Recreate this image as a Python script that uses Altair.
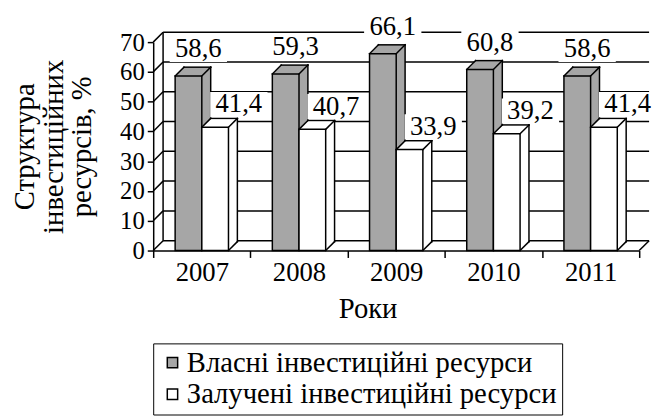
import altair as alt
import pandas as pd

years = ["2007", "2008", "2009", "2010", "2011"]
own = [58.6, 59.3, 66.1, 60.8, 58.6]
attracted = [41.4, 40.7, 33.9, 39.2, 41.4]
series_names = ["Власні інвестиційні ресурси", "Залучені інвестиційні ресурси"]
series_colors = ["#a6a6a6", "#ffffff"]
y_ticks = [0, 10, 20, 30, 40, 50, 60, 70]
y_title = ["Структура", "інвестиційних", "ресурсів, %"]
x_title = "Роки"

rows = []
for i, yr in enumerate(years):
    rows.append({"year": yr, "series": series_names[0], "value": own[i], "zero": 0})
    rows.append({"year": yr, "series": series_names[1], "value": attracted[i], "zero": 0})
df = pd.DataFrame(rows)
df["label"] = df["value"].map(lambda v: f"{v:.1f}".replace(".", ","))
ticks_df = pd.DataFrame({"value": y_ticks})
one_df = pd.DataFrame({"a": [0]})

W, H = 492, 211
BW = 27      # bar width (px)
D = 9        # bar depth (px)
WD = 10      # wall depth (px)
FONT = "Liberation Serif"
SW = 1.5

xenc = alt.X(
    "year:N",
    scale=alt.Scale(domain=years, paddingInner=0, paddingOuter=0),
    axis=alt.Axis(
        labelAngle=0, tickBand="extent", tickSize=7, tickWidth=SW, tickColor="black",
        domainColor="black", domainWidth=SW, labelFont=FONT, labelFontSize=27,
        labelColor="black", labelPadding=2, title=x_title, titleFont=FONT,
        titleFontSize=29, titleFontWeight="normal", titleColor="black", titlePadding=10,
        titleX=217,
    ),
)
y_axis = alt.Axis(
    values=y_ticks, grid=False, tickSize=6, tickWidth=SW, tickColor="black",
    domainColor="black", domainWidth=SW, labelFont=FONT, labelFontSize=25,
    labelColor="black", labelPadding=3, labelOverlap=False, title=y_title,
    titleFont=FONT, titleFontSize=29, titleFontWeight="normal", titleColor="black",
    titleLineHeight=29, titleX=-115, titleY=H / 2, titleBaseline="bottom",
)
y_scale = alt.Scale(domain=[0, 70], nice=False)


def yf(field):
    return alt.Y(f"{field}:Q", scale=y_scale, axis=y_axis)


yenc = yf("value")
yzero = yf("zero")

color_scale = alt.Scale(domain=series_names, range=series_colors)
legend = alt.Legend(
    title=None, orient="none", legendX=0, legendY=305, strokeColor="black",
    padding=5, symbolType="square", symbolSize=110, symbolStrokeColor="black",
    symbolStrokeWidth=SW, labelFont=FONT, labelFontSize=29, labelColor="black",
    labelOffset=0, rowPadding=2, labelLimit=700,
)

layers = []

# back wall gridlines
layers.append(
    alt.Chart(ticks_df).mark_rule(color="black", strokeWidth=SW, yOffset=-WD)
    .encode(y=yenc, x=alt.value(WD), x2=alt.value(W + WD))
)
# left wall diagonals
layers.append(
    alt.Chart(ticks_df).mark_rule(color="black", strokeWidth=SW, y2Offset=-WD)
    .encode(y=yenc, y2=alt.Y2("value:Q"), x=alt.value(0), x2=alt.value(WD))
)
# left wall back edge
layers.append(
    alt.Chart(one_df).mark_rule(color="black", strokeWidth=SW)
    .encode(x=alt.value(WD), y=alt.value(-WD), y2=alt.value(H - WD))
)
# floor right edge
layers.append(
    alt.Chart(one_df).mark_rule(color="black", strokeWidth=SW)
    .encode(x=alt.value(W), x2=alt.value(W + WD), y=alt.value(H), y2=alt.value(H - WD))
)

for j, name in enumerate(series_names):
    o = -BW / 2 if j == 0 else BW / 2
    xl, xr = o - BW / 2, o + BW / 2
    col = series_colors[j]
    base = alt.Chart(df).transform_filter(alt.datum.series == name)
    # depth fill
    for k in range(1, D + 1):
        layers.append(
            base.mark_bar(size=BW, xOffset=o + k, yOffset=-k, y2Offset=-k,
                          fill=col, strokeWidth=0)
            .encode(x=xenc, y=yenc, y2=alt.Y2("zero:Q"))
        )
    # front face
    layers.append(
        base.mark_bar(size=BW, xOffset=o, stroke="black", strokeWidth=SW)
        .encode(x=xenc, y=yenc, y2=alt.Y2("zero:Q"),
                color=alt.Color("series:N", scale=color_scale, legend=legend))
    )
    rule = dict(color="black", strokeWidth=SW, strokeCap="square")
    layers.append(
        base.mark_rule(xOffset=xl, x2Offset=xl + D, y2Offset=-D, **rule)
        .encode(x=xenc, x2=alt.X2("year:N"), y=yenc, y2=alt.Y2("value:Q"))
    )
    layers.append(
        base.mark_rule(xOffset=xr, x2Offset=xr + D, y2Offset=-D, **rule)
        .encode(x=xenc, x2=alt.X2("year:N"), y=yenc, y2=alt.Y2("value:Q"))
    )
    layers.append(
        base.mark_rule(xOffset=xl + D, x2Offset=xr + D, yOffset=-D, y2Offset=-D, **rule)
        .encode(x=xenc, x2=alt.X2("year:N"), y=yenc, y2=alt.Y2("value:Q"))
    )
    layers.append(
        base.mark_rule(xOffset=xr + D, x2Offset=xr + D, yOffset=-D, y2Offset=-D, **rule)
        .encode(x=xenc, x2=alt.X2("year:N"), y=yenc, y2=alt.Y2("zero:Q"))
    )
    layers.append(
        base.mark_rule(xOffset=xr, x2Offset=xr + D, y2Offset=-D, **rule)
        .encode(x=xenc, x2=alt.X2("year:N"), y=yzero, y2=alt.Y2("zero:Q"))
    )

# data labels
label_pos = [(10, -27), (24, -23)]
box_path = "M-1,-0.44H1V0.44H-1Z"
for j, name in enumerate(series_names):
    o = -BW / 2 if j == 0 else BW / 2
    lx, ly = label_pos[j]
    base = alt.Chart(df).transform_filter(alt.datum.series == name)
    layers.append(
        base.mark_point(shape=box_path, size=58 ** 2, filled=True, fill="white",
                        opacity=1, strokeWidth=0, xOffset=o + lx, yOffset=ly)
        .encode(x=xenc, y=yenc)
    )
    layers.append(
        base.mark_text(font=FONT, fontSize=27, color="black", dx=o + lx, dy=ly,
                       align="center", baseline="middle")
        .encode(x=xenc, y=yenc, text="label:N")
    )

chart = (
    alt.layer(*layers)
    .properties(
        width=W, height=H,
        autosize=alt.AutoSizeParams(type="none"),
        padding={"left": 147, "top": 32, "right": 17, "bottom": 168},
        background="white",
    )
    .configure_view(stroke=None)
)
chart.save("out.html", embed_options={"renderer": "svg", "actions": False})
